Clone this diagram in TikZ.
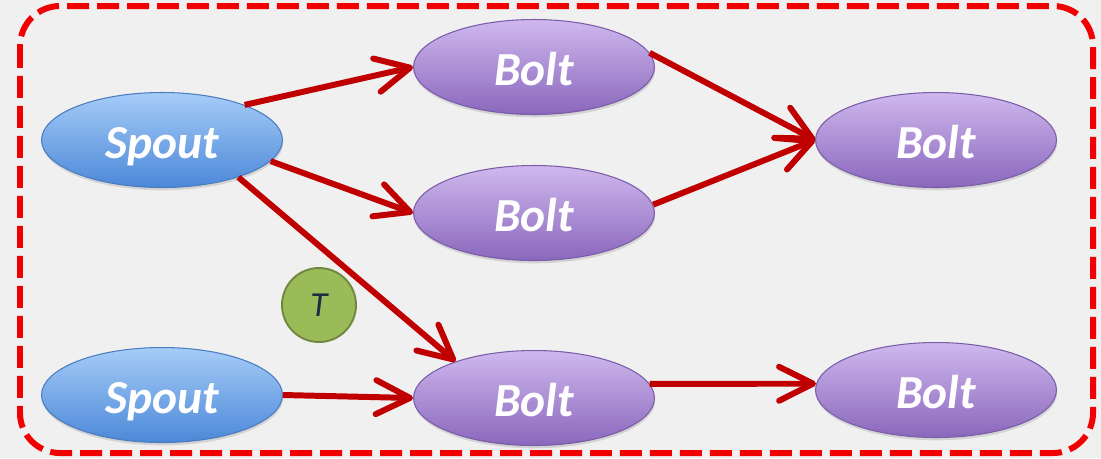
\documentclass[tikz,border=0pt]{standalone}
\usepackage{fontspec}
\setmainfont{Carlito}
\usepackage{xcolor}
\usetikzlibrary{arrows.meta,shapes.geometric,shadows}

\definecolor{fon}{HTML}{F0F0F0}
\definecolor{ramka}{HTML}{F00000}
\definecolor{strelka}{HTML}{C00000}
\definecolor{spoutverh}{HTML}{A6CCF8}
\definecolor{spoutniz}{HTML}{4C88D8}
\definecolor{spoutkraj}{HTML}{4A7CC0}
\definecolor{boltverh}{HTML}{CFB8EE}
\definecolor{boltniz}{HTML}{8A67BC}
\definecolor{boltkraj}{HTML}{7A5CA8}
\definecolor{zelen}{HTML}{9BBB59}
\definecolor{zelenkraj}{HTML}{71893F}
\definecolor{tekstT}{HTML}{1F2A44}

\tikzset{
  spout/.style={ellipse, minimum width=4.82cm, minimum height=1.9cm, inner sep=0pt,
    top color=spoutverh, bottom color=spoutniz, draw=spoutkraj, line width=0.6pt,
    text=white, font=\fontsize{27}{30}\selectfont\bfseries\itshape,
    text height=21.5pt, text depth=1pt,
    drop shadow={opacity=0.25, shadow xshift=0.4pt, shadow yshift=-1.6pt}},
  bolt/.style={spout, top color=boltverh, bottom color=boltniz, draw=boltkraj},
  tkrug/.style={circle, minimum size=1.48cm, inner sep=0pt, fill=zelen, draw=zelenkraj,
    line width=1.1pt, text=tekstT, font=\fontsize{20}{24}\selectfont\itshape},
  potok/.style={-{Straight Barb[length=6.8mm,width=6.8mm,round]}, line width=3.4pt, draw=strelka},
}

\begin{document}
\begin{tikzpicture}[x=0.02cm, y=-0.02cm]
% фон
\fill[fon] (0,0) rectangle (1101,458);
\useasboundingbox (0,0) rectangle (1101,458);
% рамка
\draw[ramka, line width=0.12cm, rounded corners=0.8cm, dash pattern=on 0.44cm off 0.16cm]
  (20,6) rectangle (1093,453);
% узлы
\node[spout] (s1) at (162,140) {Spout};
\node[spout] (s2) at (162,395) {Spout};
\node[bolt] (b1) at (534,67) {Bolt};
\node[bolt] (b2) at (534,213) {Bolt};
\node[bolt] (b3) at (534,398) {Bolt};
\node[bolt] (b4) at (936,140) {Bolt};
\node[bolt] (b5) at (936,390) {Bolt};
\node[tkrug] (t) at (319,305) {T};
% стрелки
\draw[potok] (s1.23) -- (b1.west);
\draw[potok] (s1.-11) -- (b2.west);
\draw[potok] (s1.-26) -- (b3.155);
\draw[potok] (s2.east) -- (b3.west);
\draw[potok] (b1.7) -- (b4.west);
\draw[potok] (b2.4) -- (b4.west);
\draw[potok] (b3.7) -- (b5.177);
\end{tikzpicture}
\end{document}
